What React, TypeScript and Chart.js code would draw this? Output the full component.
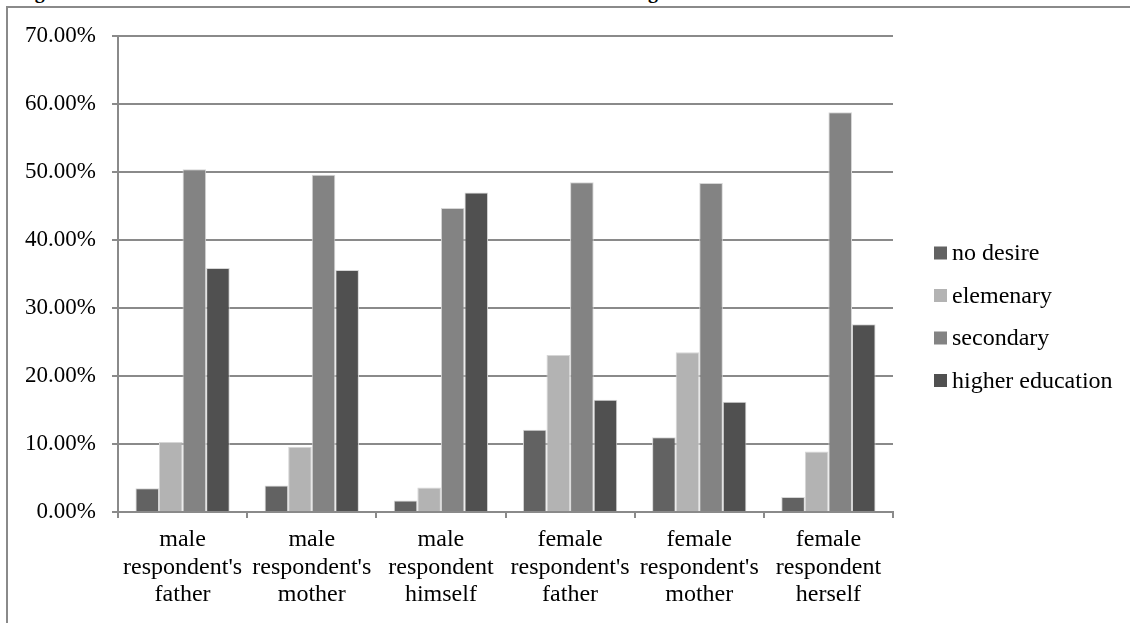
import React, { useEffect, useRef } from "react";
import { Chart, registerables } from "chart.js";

Chart.register(...registerables);

const categories: string[][] = [
  ["male", "respondent's", "father"],
  ["male", "respondent's", "mother"],
  ["male", "respondent", "himself"],
  ["female", "respondent's", "father"],
  ["female", "respondent's", "mother"],
  ["female", "respondent", "herself"],
];

const seriesNames = ["no desire", "elemenary", "secondary", "higher education"];
const seriesColors = ["#626262", "#b3b3b3", "#838383", "#505050"];

const noDesire = [3.5, 3.9, 1.7, 12.1, 11.0, 2.2];
const elementary = [10.3, 9.6, 3.6, 23.1, 23.5, 8.9];
const secondary = [50.4, 49.6, 44.7, 48.5, 48.4, 58.8];
const higherEducation = [35.9, 35.6, 47.0, 16.5, 16.2, 27.6];

const yTicks = [0, 10, 20, 30, 40, 50, 60, 70];

const titleText =
  "Figure 4: The desired level of education of the children in relation to their gender";

const FONT = '"Liberation Serif", "Times New Roman", serif';
const AXIS_GRAY = "#8a8a8a";

const customLegend = {
  id: "customLegend",
  afterDraw(chart: any) {
    const ctx = chart.ctx;
    ctx.save();
    ctx.font = `24px ${FONT}`;
    ctx.textBaseline = "middle";
    ctx.textAlign = "left";
    chart.data.datasets.forEach((ds: any, i: number) => {
      const cy = 253 + i * 42.5;
      ctx.fillStyle = ds.backgroundColor;
      ctx.fillRect(934, cy - 6.5, 13, 13);
      ctx.fillStyle = "#000";
      ctx.fillText(ds.label, 952, cy + 1);
    });
    ctx.restore();
  },
};

export default function App() {
  const canvasRef = useRef<HTMLCanvasElement | null>(null);

  useEffect(() => {
    if (!canvasRef.current) return;
    const values = [noDesire, elementary, secondary, higherEducation];
    const chart = new Chart(canvasRef.current, {
      type: "bar",
      data: {
        labels: categories,
        datasets: seriesNames.map((name, i) => ({
          label: name,
          data: values[i],
          backgroundColor: seriesColors[i],
          borderColor: "#d6d6d6",
          borderWidth: 1,
          categoryPercentage: 0.73,
          barPercentage: 1,
        })),
      },
      options: {
        animation: false,
        responsive: false,
        devicePixelRatio: 1,
        layout: { padding: { top: 36, right: 237, bottom: 0, left: 0 } },
        plugins: {
          legend: { display: false },
          tooltip: { enabled: false },
          title: { display: false },
        },
        scales: {
          x: {
            grid: {
              drawOnChartArea: false,
              drawTicks: true,
              tickLength: 6,
              color: AXIS_GRAY,
              lineWidth: 2,
            },
            border: { display: true, color: AXIS_GRAY, width: 2 },
            ticks: {
              color: "#000",
              font: { family: FONT, size: 24, lineHeight: 1.15 },
              maxRotation: 0,
              autoSkip: false,
              padding: 8,
            },
            afterFit(scale: any) {
              scale.height = 111;
            },
          },
          y: {
            min: 0,
            max: 70,
            afterBuildTicks(scale: any) {
              scale.ticks = yTicks.map((v) => ({ value: v }));
            },
            grid: {
              color: AXIS_GRAY,
              lineWidth: 2,
              drawTicks: true,
              tickLength: 6,
            },
            border: { display: true, color: AXIS_GRAY, width: 2 },
            ticks: {
              color: "#000",
              font: { family: FONT, size: 23 },
              padding: 16,
              callback: (v: any) => Number(v).toFixed(2) + "%",
            },
            afterFit(scale: any) {
              scale.width = 118;
            },
          },
        },
      },
      plugins: [customLegend],
    });
    return () => chart.destroy();
  }, []);

  return (
    <div
      style={{
        position: "fixed",
        left: 0,
        top: 0,
        width: 1130,
        height: 623,
        overflow: "hidden",
        background: "#fff",
      }}
    >
      <div
        style={{
          position: "absolute",
          left: 0,
          top: 0,
          width: 1130,
          height: 5,
          overflow: "hidden",
        }}
      >
        <div
          style={{
            position: "absolute",
            left: 17,
            top: -19,
            whiteSpace: "nowrap",
            fontFamily: FONT,
            fontWeight: "bold",
            fontSize: 20,
            lineHeight: "20px",
            color: "#000",
          }}
        >
          {titleText}
        </div>
      </div>
      <div
        style={{
          position: "absolute",
          left: 6,
          top: 6,
          width: 2000,
          height: 2000,
          borderLeft: `2px solid ${AXIS_GRAY}`,
          borderTop: `2px solid ${AXIS_GRAY}`,
        }}
      />
      <canvas
        ref={canvasRef}
        width={1130}
        height={623}
        style={{ position: "absolute", left: 0, top: 0, width: 1130, height: 623 }}
      />
    </div>
  );
}
